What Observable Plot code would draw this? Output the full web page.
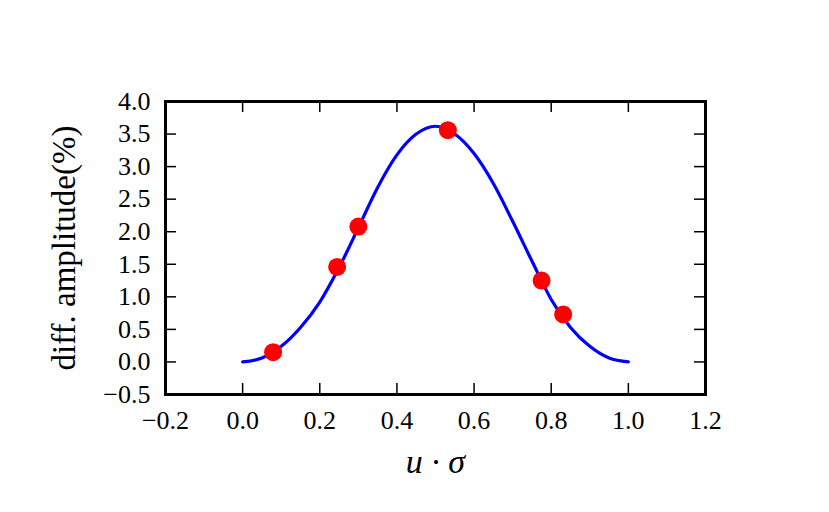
<!DOCTYPE html>
<html>
<head>
<meta charset="utf-8">
<script src="https://cdn.jsdelivr.net/npm/d3@7"></script>
<script src="https://cdn.jsdelivr.net/npm/@observablehq/plot@0.6"></script>
<style>
  html, body { margin: 0; padding: 0; background: #fff; }
</style>
</head>
<body>
<div id="chart"></div>
<script>
// Fitted curve
const curveX = [0.00, 0.05, 0.10, 0.15, 0.20, 0.25, 0.30, 0.35, 0.40, 0.45, 0.50,
                0.55, 0.60, 0.65, 0.70, 0.75, 0.80, 0.85, 0.90, 0.95, 1.00];
const curveY = [0.00, 0.06, 0.24, 0.53, 0.92, 1.45, 2.06, 2.68, 3.18, 3.50, 3.62,
                3.50, 3.20, 2.74, 2.16, 1.55, 0.96, 0.53, 0.24, 0.06, 0.00];
// Measured points
const pointX = [0.079, 0.245, 0.300, 0.532, 0.775, 0.831];
const pointY = [0.15, 1.46, 2.08, 3.56, 1.25, 0.73];
// Ticks
const xTicks = [-0.2, 0.0, 0.2, 0.4, 0.6, 0.8, 1.0, 1.2];
const yTicks = [-0.5, 0.0, 0.5, 1.0, 1.5, 2.0, 2.5, 3.0, 3.5, 4.0];
const xLabel = "u · σ";
const yLabel = "diff. amplitude(%)";

const W = 829, H = 512;
const mL = 165, mR = 124, mT = 101, mB = 118;
const innerW = W - mL - mR, innerH = H - mT - mB;
const tickLen = 11;

const curve = curveX.map((x, i) => ({x, y: curveY[i]}));
const points = pointX.map((x, i) => ({x, y: pointY[i]}));
const fmt = d3.format(".1f");

const chart = Plot.plot({
  width: W, height: H,
  marginLeft: mL, marginRight: mR, marginTop: mT, marginBottom: mB,
  style: {fontFamily: "'Liberation Serif', 'Times New Roman', serif", fontSize: "26px", background: "#fff"},
  x: {domain: [-0.2, 1.2]},
  y: {domain: [-0.5, 4.0]},
  marks: [
    Plot.line(curve, {x: "x", y: "y", stroke: "#0000ff", strokeWidth: 3.2, curve: "monotone-x"}),
    Plot.dot(points, {x: "x", y: "y", r: 9, fill: "#ff0000", stroke: "none"}),
    // inward ticks on all four sides
    Plot.tickX(xTicks, {x: d => d, stroke: "#000", strokeWidth: 1.5, insetTop: innerH - tickLen}),
    Plot.tickX(xTicks, {x: d => d, stroke: "#000", strokeWidth: 1.5, insetBottom: innerH - tickLen}),
    Plot.tickY(yTicks, {y: d => d, stroke: "#000", strokeWidth: 1.5, insetRight: innerW - tickLen}),
    Plot.tickY(yTicks, {y: d => d, stroke: "#000", strokeWidth: 1.5, insetLeft: innerW - tickLen}),
    Plot.frame({stroke: "#000", strokeWidth: 3}),
    Plot.axisX({ticks: xTicks, tickSize: 0, tickPadding: 16, tickFormat: fmt, fontSize: 26, label: null}),
    Plot.axisY({ticks: yTicks, tickSize: 0, tickPadding: 15, tickFormat: fmt, fontSize: 26, label: null}),
    Plot.text([xLabel], {frameAnchor: "bottom", dy: 68, text: d => d, fontSize: 34, fontStyle: "italic", lineAnchor: "middle", textAnchor: "middle", fill: "#000"}),
    Plot.text([yLabel], {frameAnchor: "left", dx: -101, rotate: -90, text: d => d, fontSize: 33, lineAnchor: "middle", textAnchor: "middle", fill: "#000"})
  ]
});
document.getElementById("chart").appendChild(chart);
</script>
</body>
</html>
